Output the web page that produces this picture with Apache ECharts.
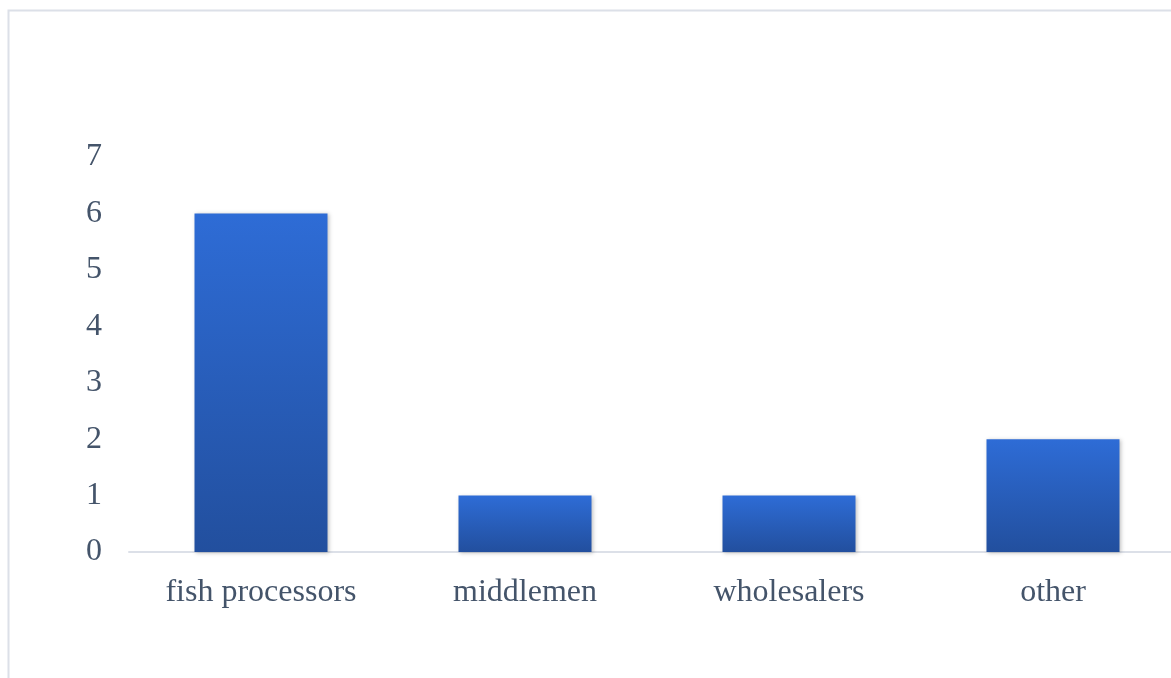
<!DOCTYPE html>
<html>
<head>
<meta charset="utf-8">
<script src="https://cdn.jsdelivr.net/npm/echarts@6/dist/echarts.min.js"></script>
<style>
  html, body { margin: 0; padding: 0; background: #fff; }
  #chart { width: 1171px; height: 678px; }
</style>
</head>
<body>
<div id="chart"></div>
<script>
// Buyers of fish, counts per category
const categories = ['fish processors', 'middlemen', 'wholesalers', 'other'];
const counts = [6, 1, 1, 2];
const yTicks = [0, 1, 2, 3, 4, 5, 6, 7];

const textColor = '#44546A';
const fontFamily = '"Liberation Serif", "Times New Roman", serif';

const chart = echarts.init(document.getElementById('chart'));
chart.setOption({
  backgroundColor: '#ffffff',
  animation: false,
  graphic: [{
    type: 'rect',
    shape: { x: 8.5, y: 10.5, width: 1200, height: 700 },
    style: { fill: 'none', stroke: '#DCE0E8', lineWidth: 2 },
    silent: true
  }],
  // plot area runs past the right edge of the canvas
  grid: {
    left: 129, width: 1056, top: 157, height: 395,
    containLabel: false, outerBoundsMode: 'none'
  },
  xAxis: {
    type: 'category',
    data: categories,
    axisLine: { lineStyle: { color: '#DCE0E8', width: 2 } },
    axisTick: { show: false },
    axisLabel: { color: textColor, fontFamily, fontSize: 32, margin: 25 }
  },
  yAxis: {
    type: 'value',
    min: yTicks[0],
    max: yTicks[yTicks.length - 1],
    interval: 1,
    axisLine: { show: false },
    axisTick: { show: false },
    splitLine: { show: false },
    axisLabel: { color: textColor, fontFamily, fontSize: 32, margin: 27, padding: [6, 0, 0, 0] }
  },
  series: [{
    type: 'bar',
    data: counts,
    barWidth: 133,
    itemStyle: {
      color: new echarts.graphic.LinearGradient(0, 0, 0, 1, [
        { offset: 0, color: '#2E6CD6' },
        { offset: 1, color: '#224F9E' }
      ]),
      shadowColor: 'rgba(0,0,0,0.25)',
      shadowBlur: 4,
      shadowOffsetX: 1,
      shadowOffsetY: 1
    }
  }]
});
</script>
</body>
</html>
